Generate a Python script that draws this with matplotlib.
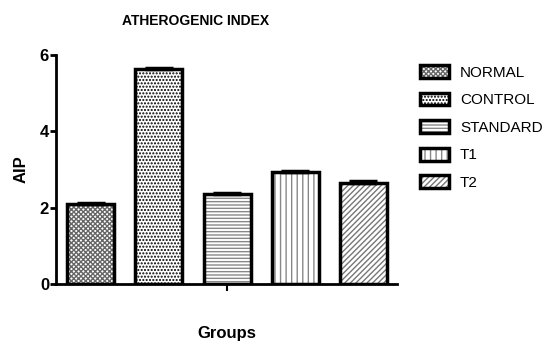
import matplotlib
matplotlib.use("Agg")
import matplotlib.pyplot as plt
from matplotlib.patches import Patch
from matplotlib.legend_handler import HandlerTuple

plt.rcParams['font.family'] = ['Liberation Sans', 'DejaVu Sans']
plt.rcParams['hatch.linewidth'] = 1.0

groups = ['NORMAL', 'CONTROL', 'STANDARD', 'T1', 'T2']
aip = [2.09, 5.63, 2.36, 2.93, 2.64]
err = [0.03, 0.03, 0.03, 0.03, 0.06]
hatches = ['xxxxxxx', '.....', '-----', '|||', '//////']
hatch_cols = ['#666666', 'black', '#888888', '#888888', '#777777']

fig = plt.figure(figsize=(5.59, 3.42), dpi=100)
ax = fig.add_axes([0.1002, 0.1696, 0.6098, 0.6696])

x = range(len(groups))
handles = []
for i in x:
    ax.bar(i, aip[i], width=0.69, color='white', edgecolor=hatch_cols[i],
           hatch=hatches[i], linewidth=0, zorder=2)
    ax.bar(i, aip[i], width=0.69, fill=False, edgecolor='black',
           linewidth=2.5, zorder=3)
    ax.errorbar(i, aip[i], yerr=[[0], [err[i]]], color='black', capsize=10,
                capthick=2.5, elinewidth=2, zorder=4)
    h1 = Patch(facecolor='white', edgecolor=hatch_cols[i], hatch=hatches[i], linewidth=0)
    h2 = Patch(fill=False, edgecolor='black', linewidth=2.5)
    handles.append((h1, h2))

ax.set_xlim(-0.51, 4.49)
ax.set_ylim(0, 6)
ax.set_yticks([0, 2, 4, 6])
ax.set_xticks([2])
ax.set_xticklabels([''])
for lab in ax.get_yticklabels():
    lab.set_fontweight('bold')
ax.tick_params(axis='y', labelsize=12, width=2, length=4, pad=1)
ax.tick_params(axis='x', width=1.5, length=5)
for s in ['top', 'right']:
    ax.spines[s].set_visible(False)
for s in ['left', 'bottom']:
    ax.spines[s].set_linewidth(2)

ax.set_ylabel('AIP', fontsize=12, fontweight='bold', labelpad=8)
ax.set_xlabel('Groups', fontsize=12, fontweight='bold', labelpad=22)
fig.text(0.35, 0.94, 'ATHEROGENIC INDEX', ha='center', va='center',
         fontsize=10, fontweight='bold')

fig.legend(handles, groups, handler_map={tuple: HandlerTuple(ndivide=1, pad=0)},
           loc='upper left', bbox_to_anchor=(0.727, 0.85), frameon=False,
           fontsize=11, handlelength=1.9, handleheight=0.9,
           labelspacing=0.85, handletextpad=0.7)

fig.savefig('out.png', dpi=100)
